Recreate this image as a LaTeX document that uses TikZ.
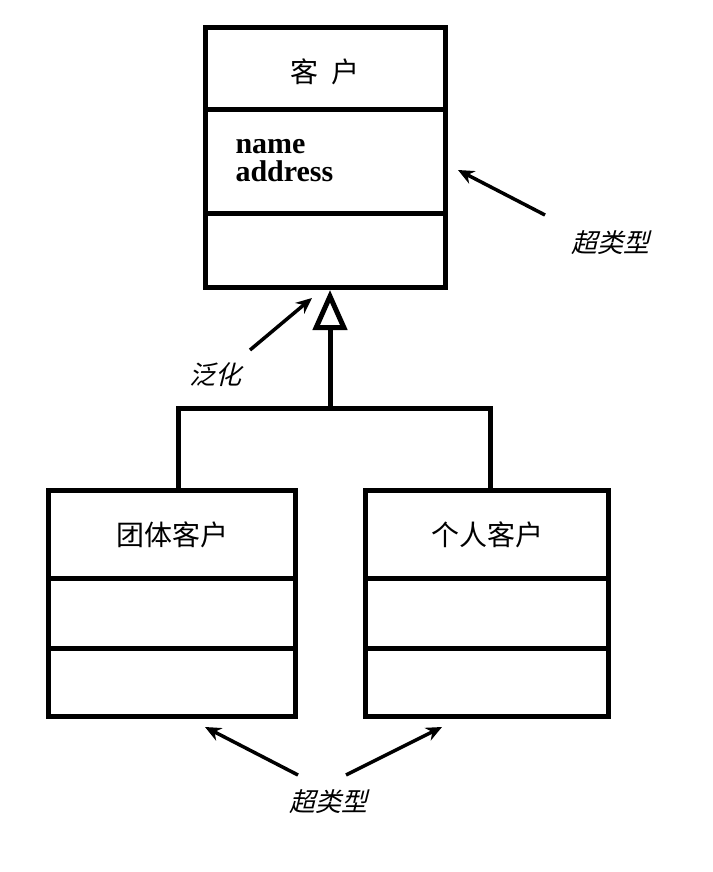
\documentclass[tikz,border=0pt]{standalone}
\usepackage{fontspec}
\setmainfont{Liberation Serif}
\newfontfamily\cjk{Noto Sans CJK SC}
\newfontfamily\cjkit[FakeSlant=0.25]{Noto Sans CJK SC}
\usetikzlibrary{positioning,arrows.meta}

\tikzset{
  classbox/.style={draw, line width=5pt, inner sep=0pt},
  note/.style={font=\cjkit\fontsize{26}{30}\selectfont},
  pointer/.style={line width=3.5pt, -{Stealth[length=16pt,width=14pt]}},
}

\begin{document}
\begin{tikzpicture}[x=1pt, y=-1pt]
\useasboundingbox (0,0) rectangle (712,872);

% superclass
\node[classbox, minimum width=240pt, minimum height=259pt] (customer) at (325,157.5) {};
\draw[line width=5pt] (205,110) -- (445,110);
\draw[line width=5pt] (205,213) -- (445,213);
\node[font=\cjk\fontsize{28}{32}\selectfont] (customer_title) at (325,72) {客\ \ 户};
\node[font=\bfseries\fontsize{30}{30}\selectfont, anchor=west, align=left] (customer_attr) at (232,161) {name\\[-2pt]address};

% subclasses
\node[classbox, minimum width=247pt, minimum height=226pt] (group) at (171.5,603) {};
\draw[line width=5pt] (48,578) -- (295,578);
\draw[line width=5pt] (48,648) -- (295,648);
\node[font=\cjk\fontsize{28}{32}\selectfont] (group_title) at (172,535) {团体客户};

\node[classbox, minimum width=243pt, minimum height=226pt] (person) at (486.5,603) {};
\draw[line width=5pt] (365,578) -- (608,578);
\draw[line width=5pt] (365,648) -- (608,648);
\node[font=\cjk\fontsize{28}{32}\selectfont] (person_title) at (487,535) {个人客户};

% generalization
\coordinate (join) at (330,408);
\draw[line width=5pt, -{Triangle[open, length=40pt, width=34pt, line width=5pt]}]
  (join) -- (330,290);
\draw[line width=5pt] (178,490) |- (join) -| (490,490);

% notes
\node[note] (super_top) at (610,243) {超类型};
\node[note] (general) at (215,375) {泛化};
\node[note] (super_bottom) at (328,802) {超类型};
\coordinate (top_tip) at (458,170);
\coordinate (gen_tip) at (312,298);
\coordinate (left_tip) at (205,727);
\coordinate (right_tip) at (442,727);
\draw[pointer] (545,215) -- (top_tip);
\draw[pointer] (250,350) -- (gen_tip);
\draw[pointer] (298,775) -- (left_tip);
\draw[pointer] (346,775) -- (right_tip);

\end{tikzpicture}
\end{document}
